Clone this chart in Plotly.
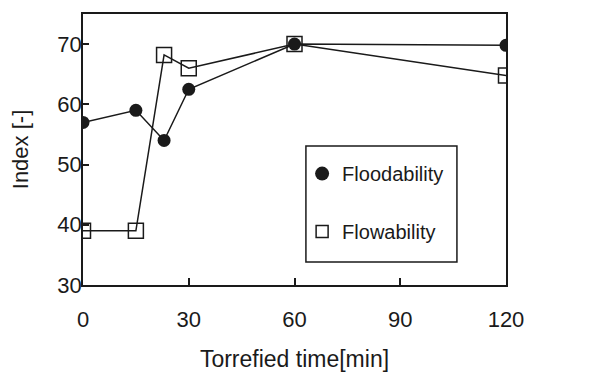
import plotly.graph_objects as go

time_min = [0, 15, 23, 30, 60, 120]
floodability = [57, 59, 54, 62.5, 70, 69.8]
flowability = [39, 39, 68.2, 66, 70, 64.8]

x_ticks = [0, 30, 60, 90, 120]
y_ticks = [30, 40, 50, 60, 70]

FONT = "Liberation Sans, Arial, sans-serif"
INK = "#1a1a1a"

fig = go.Figure()
fig.add_trace(go.Scatter(
    x=time_min, y=flowability, mode="lines+markers", showlegend=False,
    line=dict(color=INK, width=1.5),
    marker=dict(symbol="square-open", size=15, color=INK, line=dict(width=1.5)),
))
fig.add_trace(go.Scatter(
    x=time_min, y=floodability, mode="lines+markers", showlegend=False,
    line=dict(color=INK, width=1.5),
    marker=dict(symbol="circle", size=13, color=INK),
))
# legend-only entries
fig.add_trace(go.Scatter(
    x=[None], y=[None], mode="markers", name="Floodability", legendgroup="a",
    marker=dict(symbol="circle", size=14, color=INK),
))
fig.add_trace(go.Scatter(
    x=[None], y=[None], mode="markers", name="Flowability", legendgroup="b",
    marker=dict(symbol="square-open", size=12, color=INK, line=dict(width=1.5)),
))

# legend frame
fig.add_shape(type="rect", xref="paper", yref="paper",
              x0=0.527, x1=0.884, y0=0.085, y1=0.513,
              line=dict(color=INK, width=1.5), fillcolor="rgba(0,0,0,0)", layer="above")

# page body has an 8px margin; compensate so the plot area lands where the reference has it
fig.update_layout(
    width=608, height=364,
    margin=dict(l=75, r=110, t=6, b=87, autoexpand=False),
    paper_bgcolor="white", plot_bgcolor="white",
    font=dict(family=FONT, size=22, color=INK),
    legend=dict(
        x=0.518, y=0.483, xanchor="left", yanchor="top",
        borderwidth=0, bgcolor="rgba(0,0,0,0)",
        font=dict(size=20), itemwidth=30, tracegroupgap=29,
        traceorder="grouped",
    ),
)
fig.update_xaxes(
    range=[0, 120], tickvals=x_ticks, ticks="inside", ticklen=7,
    tickcolor=INK, tickwidth=1.5, showline=True, linecolor=INK, linewidth=1.5,
    mirror=True, showgrid=False, zeroline=False, ticklabelstandoff=14,
    automargin=False, tickfont=dict(size=22),
    title=dict(text="Torrefied time[min]", standoff=20, font=dict(size=23)),
)
fig.update_yaxes(
    range=[30, 75], tickvals=y_ticks, ticks="inside", ticklen=6,
    tickcolor=INK, tickwidth=1.5, showline=True, linecolor=INK, linewidth=1.5,
    mirror=True, showgrid=False, zeroline=False, ticklabelstandoff=-5,
    automargin=True, tickfont=dict(size=22),
    title=dict(text="Index [-]", standoff=24, font=dict(size=22)),
)

fig.write_html("out.html")
